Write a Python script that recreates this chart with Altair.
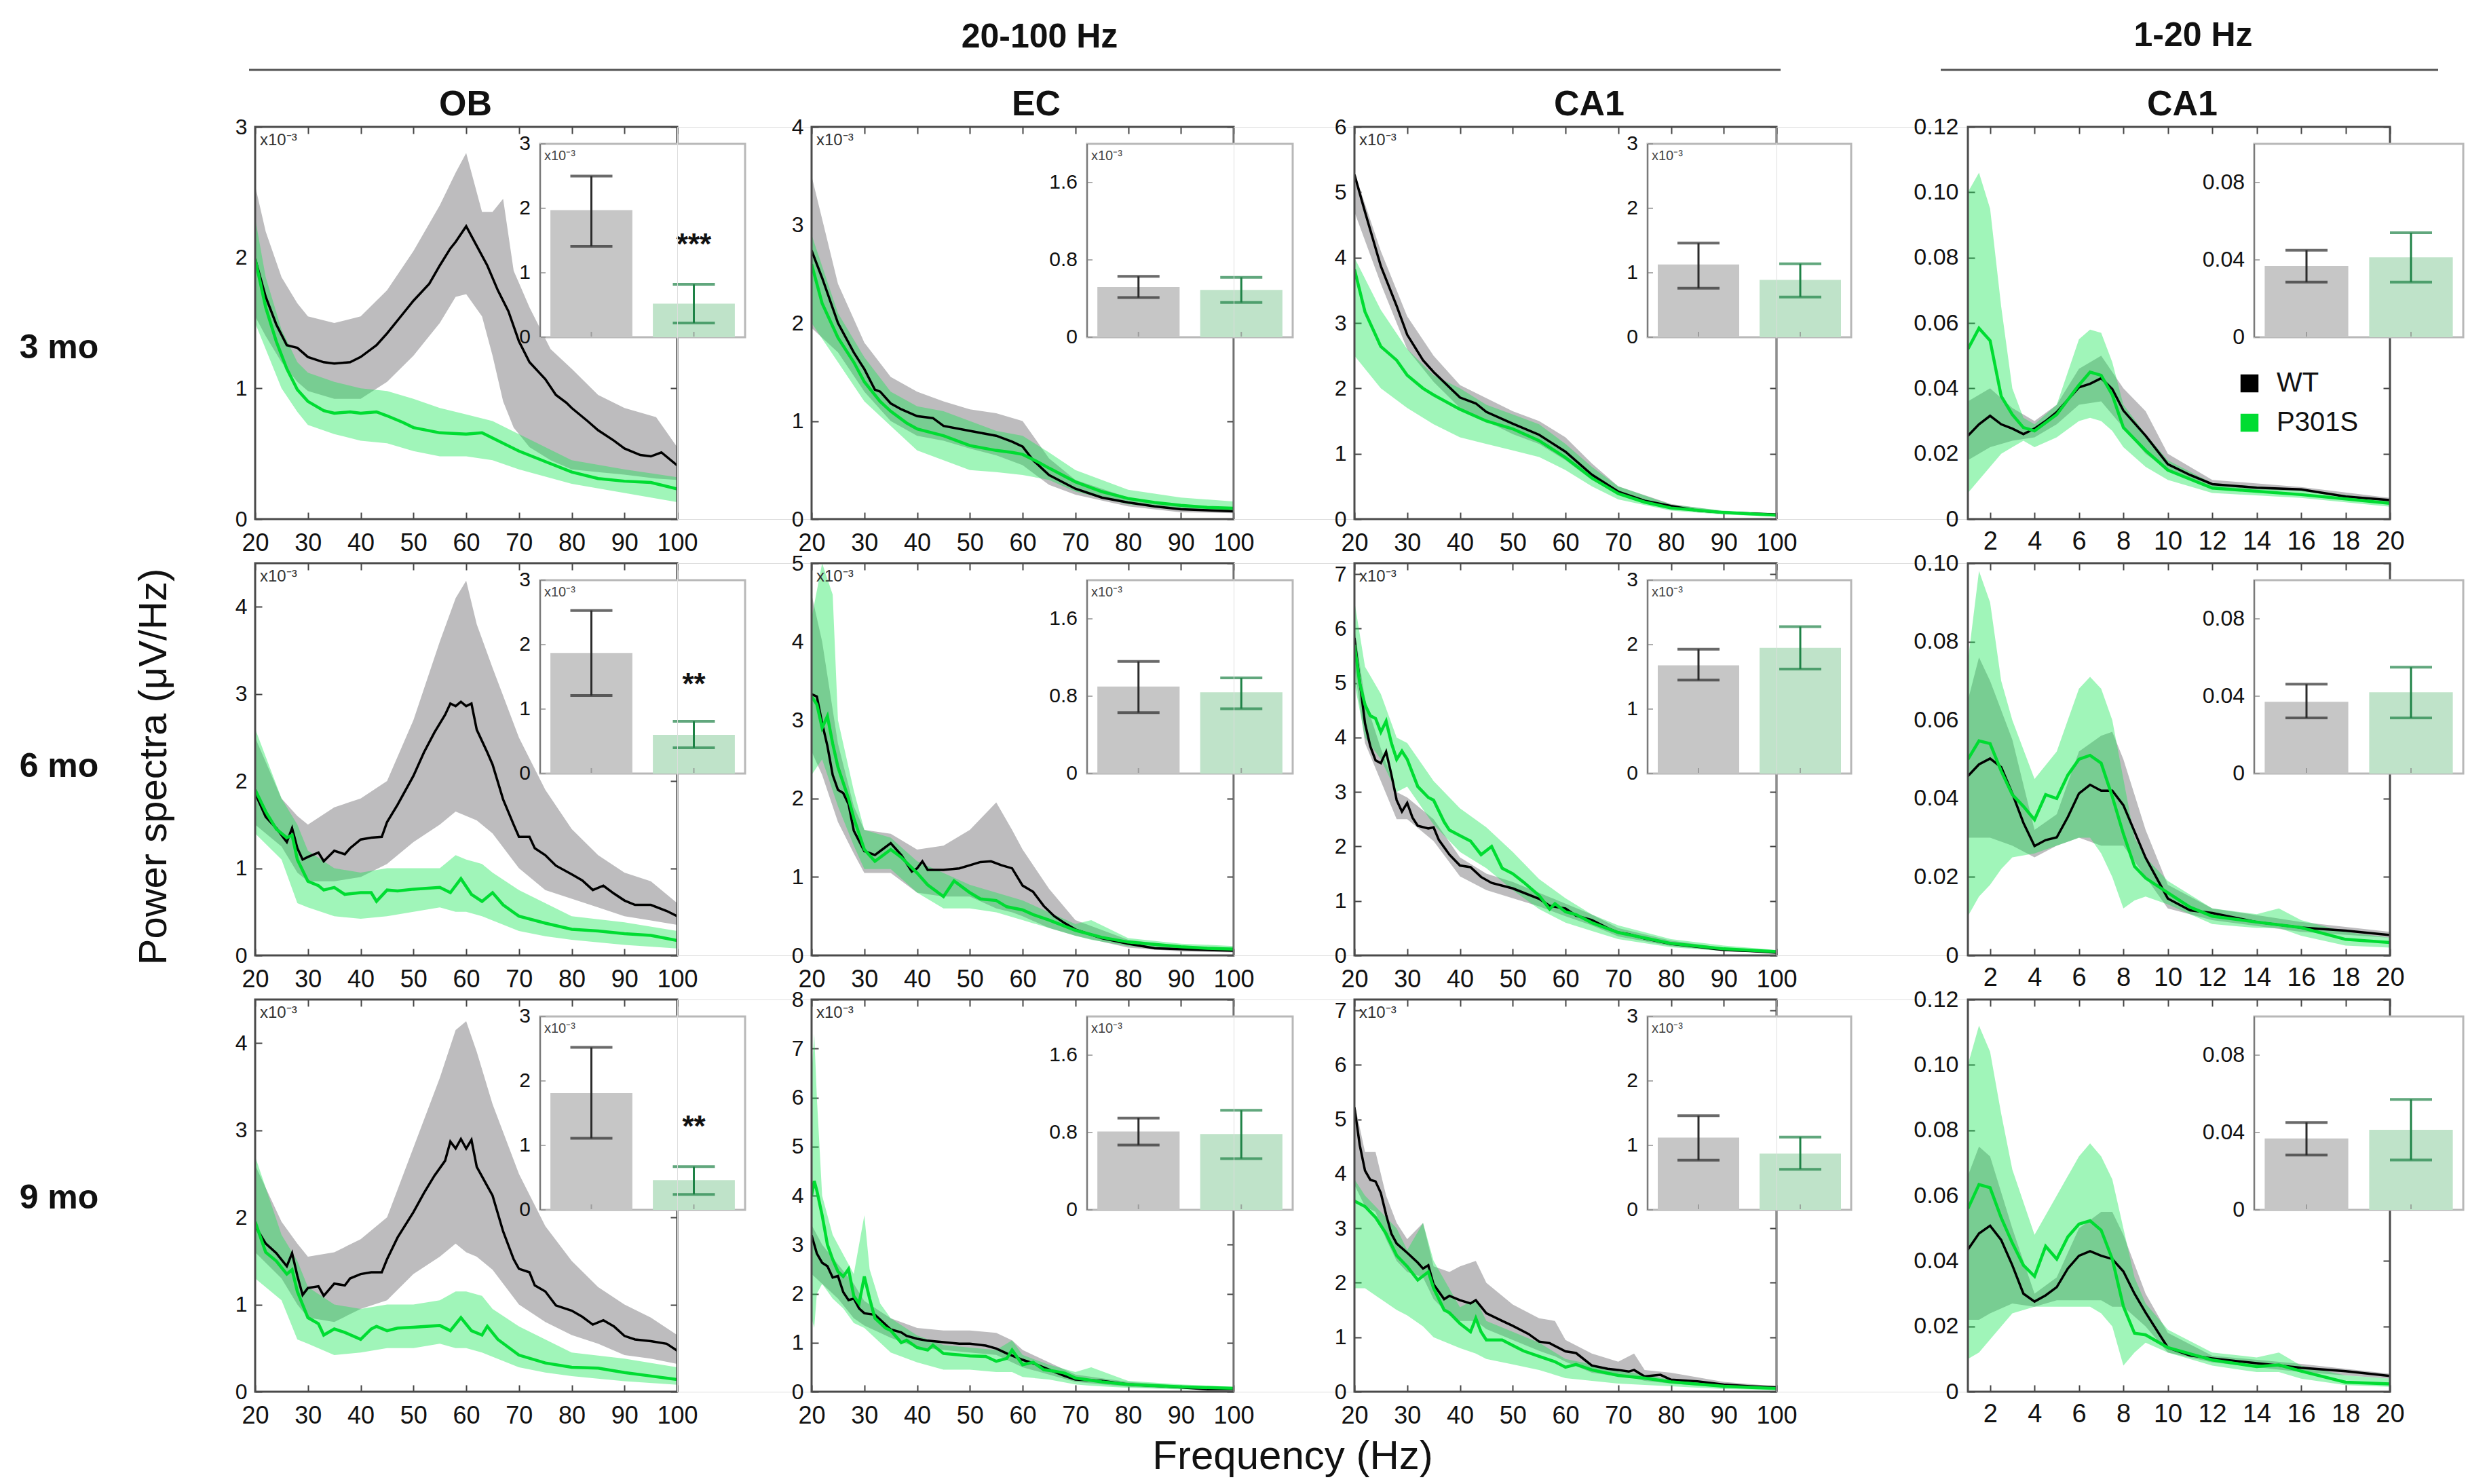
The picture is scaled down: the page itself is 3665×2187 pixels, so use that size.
import altair as alt
import pandas as pd

# ------------------------------------------------------------------
# Data (power spectra, x10^-3 uV/Hz for 20-100 Hz)
# line lists: (Hz, mean) ; band lists: (Hz, lower, upper)
# ------------------------------------------------------------------
GROUPS = ["WT", "P301S"]

# ---------------- 3 months ----------------
OB3_WT = [(20,1.99),(22,1.70),(24,1.49),(26,1.33),(28,1.31),(30,1.24),(33,1.20),(35,1.19),(38,1.20),(40,1.24),(43,1.33),(45,1.42),(48,1.57),(50,1.67),(53,1.80),(55,1.94),(57,2.07),(58,2.12),(60,2.24),(62,2.09),(64,1.94),(66,1.75),(68,1.59),(70,1.36),(72,1.20),(75,1.07),(77,0.95),(79,0.89),(80,0.85),(83,0.75),(85,0.68),(88,0.60),(90,0.54),(93,0.49),(95,0.48),(97,0.51),(100,0.41)]
OB3_WT_BAND = [(20,1.55,2.55),(22,1.40,2.20),(25,1.20,1.85),(28,1.05,1.65),(30,0.98,1.55),(35,0.92,1.50),(40,0.92,1.55),(45,1.05,1.75),(50,1.25,2.05),(55,1.50,2.40),(58,1.70,2.65),(60,1.72,2.80),(63,1.55,2.35),(65,1.25,2.35),(67,0.90,2.45),(69,0.70,1.90),(72,0.55,1.62),(76,0.45,1.30),(80,0.38,1.15),(85,0.36,0.95),(90,0.34,0.85),(96,0.31,0.78),(100,0.30,0.55)]
OB3_P = [(20,1.99),(22,1.62),(24,1.36),(26,1.15),(28,0.99),(30,0.90),(33,0.83),(35,0.81),(38,0.82),(40,0.81),(43,0.82),(45,0.79),(48,0.74),(50,0.70),(55,0.66),(60,0.65),(63,0.66),(65,0.62),(70,0.52),(75,0.44),(80,0.36),(85,0.31),(90,0.29),(95,0.28),(100,0.23)]
OB3_P_BAND = [(20,1.50,2.30),(22,1.30,1.85),(25,1.00,1.45),(28,0.82,1.20),(30,0.72,1.12),(35,0.65,1.05),(40,0.60,1.00),(45,0.58,0.98),(50,0.52,0.92),(55,0.48,0.85),(60,0.48,0.80),(65,0.45,0.75),(70,0.38,0.65),(80,0.27,0.45),(90,0.20,0.38),(100,0.13,0.32)]
OB3_BAR = [1.97, 0.52]
OB3_ERR = [(1.41, 2.50), (0.22, 0.82)]

EC3_WT = [(20,2.74),(22,2.46),(25,2.00),(28,1.70),(30,1.53),(32,1.32),(33,1.30),(35,1.18),(37,1.12),(40,1.05),(43,1.03),(45,0.95),(50,0.90),(55,0.85),(58,0.79),(60,0.74),(62,0.60),(65,0.45),(70,0.31),(75,0.22),(80,0.17),(85,0.13),(90,0.10),(95,0.09),(100,0.08)]
EC3_WT_BAND = [(20,1.95,3.50),(25,1.70,2.40),(30,1.30,1.80),(35,1.00,1.45),(40,0.85,1.30),(45,0.80,1.20),(50,0.72,1.12),(55,0.65,1.08),(60,0.55,1.00),(65,0.35,0.62),(70,0.25,0.40),(80,0.13,0.22),(90,0.07,0.14),(100,0.06,0.12)]
EC3_P = [(20,2.60),(22,2.20),(25,1.85),(28,1.60),(30,1.40),(33,1.20),(35,1.10),(38,0.98),(40,0.92),(45,0.85),(50,0.75),(55,0.70),(58,0.68),(60,0.66),(63,0.58),(65,0.52),(70,0.38),(75,0.28),(80,0.21),(85,0.17),(90,0.14),(95,0.12),(100,0.11)]
EC3_P_BAND = [(20,2.00,2.90),(25,1.60,2.10),(30,1.20,1.65),(35,0.95,1.30),(40,0.70,1.15),(45,0.60,1.10),(50,0.50,1.00),(55,0.48,0.90),(60,0.45,0.85),(65,0.40,0.68),(70,0.28,0.50),(80,0.15,0.30),(90,0.10,0.22),(100,0.07,0.18)]
EC3_BAR = [0.52, 0.49]
EC3_ERR = [(0.41, 0.63), (0.36, 0.62)]

CA3_WT = [(20,5.27),(22,4.70),(25,3.87),(28,3.26),(30,2.82),(33,2.43),(35,2.25),(40,1.86),(43,1.77),(45,1.64),(50,1.46),(55,1.29),(60,1.03),(65,0.68),(70,0.42),(75,0.28),(80,0.20),(85,0.13),(90,0.10),(100,0.07)]
CA3_WT_BAND = [(20,4.70,5.30),(25,3.60,4.10),(30,2.60,3.10),(35,2.10,2.50),(40,1.70,2.05),(45,1.50,1.85),(50,1.30,1.65),(55,1.15,1.50),(60,0.90,1.25),(65,0.60,0.85),(70,0.37,0.50),(80,0.17,0.23),(90,0.08,0.12),(100,0.05,0.08)]
CA3_P = [(20,3.82),(22,3.17),(25,2.64),(28,2.43),(30,2.20),(33,2.00),(35,1.90),(40,1.68),(45,1.50),(50,1.38),(55,1.20),(60,0.94),(65,0.63),(70,0.39),(75,0.26),(80,0.17),(90,0.10),(100,0.06)]
CA3_P_BAND = [(20,2.50,4.00),(25,2.00,3.20),(30,1.70,2.60),(35,1.45,2.20),(40,1.25,2.00),(45,1.15,1.75),(50,1.05,1.60),(55,0.95,1.45),(60,0.75,1.15),(65,0.50,0.80),(70,0.30,0.50),(80,0.13,0.22),(90,0.07,0.13),(100,0.04,0.09)]
CA3_BAR = [1.13, 0.89]
CA3_ERR = [(0.76, 1.46), (0.625, 1.14)]

LF3_WT = [(1,0.0255),(1.5,0.029),(2,0.0316),(2.5,0.029),(3,0.0277),(3.5,0.026),(4,0.0277),(4.5,0.030),(5,0.0327),(5.5,0.0365),(6,0.0403),(6.5,0.0414),(7,0.0431),(7.5,0.0398),(8,0.0332),(9,0.0255),(10,0.0168),(11,0.0135),(12,0.0107),(14,0.0096),(16,0.0091),(18,0.0069),(20,0.0058)]
LF3_WT_BAND = [(1,0.018,0.036),(2,0.022,0.040),(3,0.024,0.034),(4,0.025,0.030),(5,0.029,0.035),(6,0.035,0.046),(7,0.036,0.050),(8,0.028,0.040),(9,0.020,0.033),(10,0.015,0.020),(12,0.0095,0.012),(16,0.0085,0.0098),(20,0.0052,0.0065)]
LF3_P = [(1,0.052),(1.5,0.0584),(2,0.0546),(2.5,0.0376),(3,0.032),(3.5,0.028),(4,0.027),(5,0.032),(6,0.041),(6.5,0.045),(7,0.044),(7.5,0.038),(8,0.028),(9,0.021),(10,0.015),(12,0.0095),(14,0.0085),(16,0.0075),(18,0.0062),(20,0.0048)]
LF3_P_BAND = [(1,0.008,0.100),(1.5,0.012,0.106),(2,0.016,0.095),(2.5,0.020,0.065),(3,0.022,0.040),(3.5,0.024,0.031),(4,0.022,0.029),(5,0.025,0.035),(6,0.030,0.055),(6.5,0.031,0.058),(7,0.030,0.057),(7.5,0.027,0.048),(8,0.022,0.035),(9,0.016,0.026),(10,0.012,0.018),(12,0.008,0.011),(16,0.0065,0.009),(20,0.0038,0.0058)]
LF3_BAR = [0.0368, 0.0413]
LF3_ERR = [(0.0285, 0.045), (0.0285, 0.054)]

# ---------------- 6 months ----------------
OB6_WT = [(20,1.86),(22,1.59),(24,1.46),(26,1.30),(27,1.46),(28,1.23),(29,1.10),(30,1.13),(32,1.18),(33,1.08),(35,1.20),(37,1.16),(38,1.23),(40,1.33),(42,1.35),(44,1.36),(45,1.53),(47,1.73),(50,2.06),(52,2.33),(54,2.56),(56,2.76),(57,2.89),(58,2.86),(59,2.91),(60,2.86),(61,2.89),(62,2.59),(64,2.33),(65,2.19),(67,1.79),(69,1.50),(70,1.36),(72,1.36),(73,1.23),(75,1.15),(77,1.03),(80,0.93),(82,0.86),(84,0.75),(86,0.80),(88,0.71),(90,0.63),(92,0.58),(95,0.58),(98,0.51),(100,0.45)]
OB6_WT_BAND = [(20,1.50,2.50),(25,1.25,1.80),(28,0.95,1.60),(30,0.85,1.50),(35,0.85,1.70),(40,0.90,1.80),(45,1.05,2.00),(50,1.30,2.70),(55,1.50,3.60),(58,1.65,4.10),(60,1.60,4.30),(62,1.55,3.80),(65,1.40,3.30),(70,1.00,2.50),(75,0.75,1.90),(80,0.65,1.45),(85,0.55,1.15),(90,0.45,0.95),(95,0.40,0.85),(100,0.35,0.60)]
OB6_P = [(20,1.90),(22,1.65),(24,1.45),(26,1.35),(27,1.38),(28,1.10),(30,0.85),(32,0.80),(33,0.75),(35,0.78),(37,0.70),(40,0.72),(42,0.72),(43,0.62),(45,0.75),(47,0.74),(50,0.76),(55,0.78),(57,0.72),(59,0.88),(61,0.70),(63,0.62),(65,0.72),(67,0.58),(70,0.45),(75,0.37),(80,0.30),(85,0.28),(90,0.25),(95,0.23),(100,0.17)]
OB6_P_BAND = [(20,1.40,2.60),(25,1.10,1.80),(28,0.60,1.50),(30,0.55,1.20),(35,0.45,1.00),(40,0.42,0.95),(45,0.45,1.00),(50,0.50,1.00),(55,0.55,1.00),(58,0.50,1.15),(60,0.50,1.10),(63,0.45,1.05),(65,0.40,0.95),(70,0.28,0.75),(75,0.22,0.60),(80,0.18,0.45),(90,0.12,0.38),(100,0.08,0.28)]
OB6_BAR = [1.87, 0.60]
OB6_ERR = [(1.21, 2.53), (0.40, 0.81)]

EC6_WT = [(20,3.33),(21,3.30),(22,2.96),(23,2.67),(24,2.30),(25,2.11),(26,2.07),(27,1.93),(28,1.59),(30,1.33),(32,1.28),(33,1.33),(35,1.43),(37,1.28),(39,1.07),(40,1.11),(41,1.20),(42,1.09),(45,1.09),(48,1.11),(50,1.15),(52,1.19),(54,1.20),(56,1.15),(58,1.11),(60,0.89),(62,0.81),(64,0.63),(66,0.50),(68,0.41),(70,0.33),(75,0.22),(80,0.15),(85,0.09),(90,0.08),(95,0.07),(100,0.06)]
EC6_WT_BAND = [(20,2.60,4.60),(22,2.30,4.00),(25,1.70,2.70),(28,1.30,1.90),(30,1.05,1.60),(35,1.05,1.55),(40,0.80,1.35),(45,0.75,1.40),(50,0.75,1.60),(55,0.60,1.95),(58,0.55,1.60),(60,0.50,1.35),(65,0.35,0.85),(70,0.25,0.45),(80,0.10,0.20),(90,0.05,0.12),(100,0.04,0.10)]
EC6_P = [(20,3.30),(21,3.20),(22,2.90),(23,3.05),(24,2.70),(25,2.40),(27,2.00),(28,1.75),(30,1.35),(32,1.20),(35,1.35),(37,1.25),(40,1.05),(42,0.90),(45,0.75),(47,0.95),(50,0.80),(52,0.72),(55,0.70),(57,0.62),(60,0.58),(62,0.52),(65,0.45),(70,0.32),(75,0.23),(80,0.17),(85,0.14),(90,0.11),(95,0.09),(100,0.08)]
EC6_P_BAND = [(20,2.30,4.30),(22,2.50,5.00),(24,2.10,4.60),(25,1.90,3.00),(28,1.40,2.10),(30,1.10,1.60),(35,1.10,1.50),(40,0.80,1.20),(45,0.60,1.05),(50,0.60,0.90),(55,0.55,0.80),(60,0.45,0.70),(65,0.35,0.55),(70,0.25,0.40),(73,0.20,0.45),(80,0.12,0.22),(90,0.07,0.15),(100,0.05,0.12)]
EC6_BAR = [0.90, 0.84]
EC6_ERR = [(0.63, 1.16), (0.67, 0.99)]

CA6_WT = [(20,5.83),(21,5.04),(22,4.26),(23,3.84),(24,3.58),(25,3.53),(26,3.74),(27,3.32),(28,2.85),(29,2.64),(30,2.80),(31,2.53),(32,2.38),(34,2.33),(35,2.35),(36,2.12),(38,1.85),(40,1.65),(42,1.62),(44,1.44),(46,1.33),(50,1.23),(55,1.04),(57,0.91),(60,0.86),(62,0.73),(65,0.65),(68,0.50),(70,0.42),(72,0.39),(75,0.31),(80,0.21),(85,0.16),(90,0.10),(95,0.08),(100,0.05)]
CA6_WT_BAND = [(20,5.30,6.00),(22,3.90,4.70),(25,3.20,3.80),(28,2.50,3.00),(30,2.50,2.90),(35,2.10,2.50),(40,1.45,1.80),(45,1.20,1.50),(50,1.05,1.35),(55,0.90,1.15),(60,0.72,0.95),(65,0.55,0.75),(70,0.35,0.50),(80,0.17,0.27),(90,0.08,0.14),(100,0.04,0.08)]
CA6_P = [(20,5.70),(21,5.00),(22,4.60),(23,4.40),(24,4.35),(25,4.10),(26,4.30),(27,3.90),(28,3.60),(29,3.75),(30,3.60),(32,3.10),(34,2.90),(35,2.85),(37,2.45),(38,2.30),(40,2.20),(42,2.10),(44,1.85),(46,2.00),(48,1.60),(50,1.50),(52,1.35),(55,1.10),(57,0.85),(58,0.95),(60,0.80),(62,0.75),(65,0.60),(70,0.42),(75,0.32),(80,0.22),(85,0.17),(90,0.12),(100,0.07)]
CA6_P_BAND = [(20,5.00,6.50),(22,4.00,5.30),(25,3.60,4.80),(28,3.00,4.00),(30,3.10,3.90),(35,2.40,3.20),(40,1.90,2.70),(45,1.60,2.35),(50,1.20,1.90),(55,0.85,1.40),(60,0.60,1.05),(65,0.45,0.75),(70,0.30,0.55),(80,0.15,0.30),(90,0.08,0.18),(100,0.04,0.10)]
CA6_BAR = [1.68, 1.95]
CA6_ERR = [(1.45, 1.93), (1.62, 2.28)]

LF6_WT = [(1,0.0457),(1.5,0.0487),(2,0.0502),(2.5,0.048),(3,0.0413),(3.5,0.0338),(4,0.0279),(4.5,0.0294),(5,0.0301),(5.5,0.0353),(6,0.0413),(6.5,0.0435),(7,0.042),(7.5,0.042),(8,0.0383),(8.5,0.0316),(9,0.0249),(10,0.0145),(11,0.0115),(12,0.0108),(14,0.0085),(16,0.0071),(18,0.0063),(20,0.0052)]
LF6_WT_BAND = [(1,0.030,0.065),(1.5,0.030,0.076),(2,0.030,0.070),(3,0.028,0.055),(4,0.025,0.032),(5,0.028,0.036),(6,0.030,0.052),(7,0.028,0.056),(7.5,0.028,0.057),(8,0.028,0.050),(9,0.020,0.032),(10,0.012,0.018),(12,0.009,0.012),(16,0.006,0.0085),(20,0.0045,0.006)]
LF6_P = [(1,0.050),(1.5,0.0547),(2,0.054),(2.5,0.047),(3,0.041),(3.5,0.038),(4,0.0346),(4.5,0.041),(5,0.040),(5.5,0.046),(6,0.050),(6.5,0.051),(7,0.049),(7.5,0.0405),(8,0.031),(8.5,0.0227),(9,0.0197),(10,0.016),(11,0.0123),(12,0.010),(14,0.0085),(16,0.0071),(18,0.0041),(20,0.0033)]
LF6_P_BAND = [(1,0.010,0.075),(1.5,0.015,0.098),(2,0.018,0.090),(2.5,0.022,0.070),(3,0.025,0.060),(4,0.026,0.045),(5,0.028,0.052),(6,0.030,0.068),(6.5,0.030,0.071),(7,0.026,0.068),(7.5,0.020,0.060),(8,0.012,0.045),(8.5,0.014,0.030),(9,0.015,0.025),(10,0.013,0.019),(12,0.008,0.012),(14,0.007,0.0105),(15,0.007,0.012),(16,0.005,0.009),(18,0.0025,0.006),(20,0.002,0.0045)]
LF6_BAR = [0.0371, 0.042]
LF6_ERR = [(0.0288, 0.0462), (0.0288, 0.055)]

# ---------------- 9 months ----------------
OB9_WT = [(20,1.90),(22,1.70),(24,1.59),(26,1.44),(27,1.59),(28,1.33),(29,1.11),(30,1.19),(32,1.21),(33,1.10),(35,1.24),(37,1.22),(38,1.30),(40,1.35),(42,1.37),(44,1.37),(45,1.52),(47,1.77),(50,2.06),(52,2.28),(54,2.48),(56,2.65),(57,2.87),(58,2.79),(59,2.90),(60,2.79),(61,2.89),(62,2.58),(64,2.36),(65,2.25),(67,1.84),(69,1.52),(70,1.41),(72,1.37),(73,1.22),(75,1.15),(77,0.99),(80,0.93),(82,0.86),(84,0.77),(86,0.82),(88,0.75),(90,0.64),(92,0.60),(95,0.58),(98,0.55),(100,0.47)]
OB9_WT_BAND = [(20,1.60,2.60),(25,1.30,1.95),(28,1.00,1.70),(30,0.85,1.55),(35,0.80,1.60),(40,0.95,1.75),(45,1.05,2.00),(50,1.35,2.80),(55,1.55,3.60),(58,1.70,4.15),(60,1.60,4.25),(62,1.55,3.90),(65,1.40,3.30),(70,1.00,2.50),(75,0.80,1.90),(80,0.65,1.50),(85,0.55,1.20),(90,0.42,1.00),(95,0.38,0.85),(100,0.32,0.65)]
OB9_P = [(20,1.95),(22,1.60),(24,1.50),(26,1.35),(27,1.40),(28,1.15),(30,0.85),(32,0.78),(33,0.65),(35,0.72),(37,0.68),(40,0.60),(42,0.72),(43,0.75),(45,0.70),(47,0.73),(50,0.74),(55,0.76),(57,0.70),(59,0.85),(61,0.70),(63,0.65),(64,0.75),(66,0.60),(70,0.42),(75,0.33),(80,0.28),(85,0.27),(90,0.22),(95,0.18),(100,0.14)]
OB9_P_BAND = [(20,1.30,2.70),(25,1.05,1.80),(28,0.60,1.50),(30,0.55,1.20),(35,0.42,1.00),(40,0.45,0.95),(45,0.50,1.00),(50,0.50,1.00),(55,0.55,1.05),(58,0.50,1.15),(60,0.50,1.15),(63,0.45,1.10),(65,0.40,0.95),(70,0.28,0.75),(75,0.22,0.60),(80,0.18,0.45),(90,0.12,0.38),(100,0.08,0.28)]
OB9_BAR = [1.81, 0.46]
OB9_ERR = [(1.11, 2.52), (0.24, 0.67)]

EC9_WT = [(20,3.19),(21,2.82),(22,2.63),(23,2.56),(24,2.33),(25,2.36),(26,2.03),(27,1.87),(28,1.90),(29,1.70),(30,1.60),(32,1.57),(34,1.37),(35,1.27),(37,1.21),(38,1.14),(40,1.08),(42,1.04),(45,1.01),(48,0.98),(50,0.98),(53,0.94),(55,0.88),(57,0.78),(60,0.65),(62,0.58),(65,0.45),(68,0.32),(70,0.25),(75,0.22),(80,0.15),(85,0.12),(90,0.09),(95,0.05),(100,0.05)]
EC9_WT_BAND = [(20,2.40,3.40),(22,2.20,3.00),(25,1.90,2.60),(28,1.50,2.20),(30,1.35,1.85),(35,1.10,1.50),(40,0.90,1.30),(45,0.85,1.25),(50,0.80,1.25),(55,0.75,1.20),(58,0.60,1.05),(60,0.50,0.85),(65,0.35,0.60),(70,0.20,0.35),(80,0.10,0.20),(90,0.06,0.12),(100,0.03,0.08)]
EC9_P = [(20,4.00),(20.5,4.30),(21,4.10),(22,3.60),(23,3.00),(24,2.70),(25,2.45),(26,2.35),(27,2.50),(28,1.95),(29,1.80),(30,2.35),(31,1.90),(32,1.50),(34,1.30),(35,1.25),(37,1.00),(38,1.05),(40,0.90),(42,0.85),(43,0.95),(45,0.78),(48,0.75),(50,0.73),(53,0.72),(55,0.62),(57,0.68),(58,0.85),(60,0.55),(62,0.60),(64,0.45),(66,0.42),(68,0.38),(70,0.28),(75,0.20),(80,0.15),(90,0.10),(100,0.07)]
EC9_P_BAND = [(20,1.50,6.50),(20.5,1.30,7.30),(21,2.00,6.00),(22,2.20,4.00),(24,1.90,3.20),(26,1.70,2.80),(28,1.40,2.40),(30,1.30,3.60),(31,1.20,2.50),(33,1.00,1.80),(35,0.80,1.50),(40,0.60,1.15),(45,0.45,0.95),(50,0.45,0.90),(55,0.40,0.85),(58,0.40,1.05),(60,0.30,0.75),(65,0.25,0.55),(70,0.15,0.40),(73,0.12,0.50),(80,0.08,0.22),(90,0.05,0.15),(100,0.03,0.10)]
EC9_BAR = [0.81, 0.785]
EC9_ERR = [(0.67, 0.95), (0.53, 1.03)]

CA9_WT = [(20,5.22),(21,4.53),(22,4.06),(23,3.89),(24,3.86),(25,3.65),(26,3.25),(27,2.90),(28,2.72),(30,2.55),(32,2.37),(33,2.26),(34,2.32),(35,1.97),(37,1.70),(38,1.76),(40,1.68),(42,1.62),(43,1.68),(45,1.44),(48,1.30),(50,1.21),(53,1.06),(55,0.92),(57,0.89),(60,0.74),(62,0.71),(65,0.48),(68,0.42),(70,0.40),(72,0.37),(73,0.40),(75,0.28),(78,0.31),(80,0.22),(85,0.19),(90,0.13),(95,0.10),(100,0.08)]
CA9_WT_BAND = [(20,3.80,5.30),(22,3.40,4.40),(24,3.30,4.40),(26,2.80,3.60),(28,2.40,3.10),(30,2.20,2.80),(33,2.10,3.10),(35,1.70,2.30),(38,1.40,2.20),(40,1.30,2.30),(43,1.30,2.40),(45,1.15,2.00),(50,0.95,1.60),(55,0.75,1.35),(58,0.65,1.30),(60,0.55,0.95),(65,0.35,0.70),(70,0.28,0.55),(73,0.25,0.70),(75,0.20,0.40),(80,0.15,0.35),(90,0.08,0.18),(100,0.05,0.10)]
CA9_P = [(20,3.50),(22,3.40),(24,3.20),(26,2.90),(28,2.50),(30,2.30),(32,2.05),(34,2.20),(35,1.90),(37,1.50),(38,1.45),(40,1.25),(42,1.10),(43,1.35),(44,1.10),(45,0.95),(48,0.95),(50,0.85),(52,0.75),(55,0.65),(58,0.55),(60,0.45),(62,0.50),(65,0.40),(70,0.30),(75,0.25),(80,0.18),(90,0.10),(100,0.06)]
CA9_P_BAND = [(20,1.90,3.90),(22,1.90,3.60),(25,1.70,3.30),(28,1.50,3.00),(30,1.40,2.60),(33,1.20,3.10),(35,1.00,2.40),(40,0.80,1.55),(43,0.70,1.70),(45,0.60,1.30),(50,0.50,1.10),(55,0.40,0.90),(60,0.25,0.60),(65,0.20,0.50),(70,0.15,0.40),(80,0.10,0.22),(90,0.05,0.13),(100,0.03,0.08)]
CA9_BAR = [1.12, 0.875]
CA9_ERR = [(0.77, 1.46), (0.63, 1.13)]

LF9_WT = [(1,0.0435),(1.5,0.0484),(2,0.0508),(2.5,0.0464),(3,0.0387),(3.5,0.030),(4,0.0276),(4.5,0.0295),(5,0.032),(5.5,0.0377),(6,0.0416),(6.5,0.043),(7,0.0416),(7.5,0.0406),(8,0.0368),(8.5,0.030),(9,0.0242),(10,0.0135),(11,0.0111),(12,0.0102),(14,0.0087),(16,0.0073),(18,0.0063),(20,0.0048)]
LF9_WT_BAND = [(1,0.022,0.066),(1.5,0.022,0.075),(2,0.024,0.072),(3,0.027,0.050),(4,0.026,0.030),(5,0.028,0.035),(6,0.028,0.050),(7,0.028,0.055),(7.5,0.026,0.055),(8,0.026,0.048),(9,0.020,0.030),(10,0.012,0.018),(12,0.009,0.011),(16,0.006,0.0085),(20,0.004,0.0055)]
LF9_P = [(1,0.056),(1.5,0.0634),(2,0.0624),(2.5,0.0532),(3,0.0455),(3.5,0.0387),(4,0.0353),(4.5,0.0445),(5,0.0406),(5.5,0.0474),(6,0.0513),(6.5,0.0523),(7,0.0494),(7.5,0.0406),(8,0.0261),(8.5,0.0179),(9,0.0174),(10,0.0135),(11,0.0116),(12,0.0097),(14,0.0077),(15,0.0082),(16,0.0063),(18,0.0029),(20,0.0024)]
LF9_P_BAND = [(1,0.010,0.100),(1.5,0.012,0.112),(2,0.016,0.104),(2.5,0.020,0.085),(3,0.024,0.068),(4,0.026,0.048),(5,0.026,0.060),(6,0.026,0.072),(6.5,0.026,0.076),(7,0.024,0.072),(7.5,0.020,0.065),(8,0.008,0.050),(8.5,0.012,0.035),(9,0.015,0.027),(10,0.012,0.019),(12,0.008,0.012),(14,0.006,0.0105),(15,0.006,0.012),(16,0.004,0.008),(18,0.002,0.005),(20,0.0015,0.004)]
LF9_BAR = [0.0369, 0.0414]
LF9_ERR = [(0.0283, 0.0452), (0.0258, 0.0571)]

# significance marks on the P301S inset bar (y in inset units), per row
STARS_OB = [("***", 1.42), ("**", 1.37), ("**", 1.27)]

# axis tops of the main panels, per row (OB, EC, CA1, CA1 1-20 Hz)
YTOP = [[3, 4, 6, 0.12], [4.5, 5, 7.2, 0.10], [4.5, 8, 7.2, 0.12]]

# inset y tick values and their labels
INSET_TICKS_INT = [0, 1, 2, 3]
INSET_LABELS_INT = ["0", "1", "2", "3"]
INSET_TICKS_EC = [0, 0.8, 1.6]
INSET_LABELS_EC = ["0", "0.8", "1.6"]
INSET_TICKS_LF = [0, 0.04, 0.08]
INSET_LABELS_LF = ["0", "0.04", "0.08"]

ROW_LABELS = ["3 mo", "6 mo", "9 mo"]
COL_TITLES = ["OB", "EC", "CA1", "CA1"]

# ------------------------------------------------------------------
# styling / layout
# ------------------------------------------------------------------
W, H = 622, 578
TK, ITK = 10, 7
REG = "'Liberation Sans', Arial, sans-serif"
NARROW = "'Liberation Sans Narrow', 'Liberation Sans', Arial, sans-serif"
LINE_COLORS = ["#000000", "#00dc32"]
WT_BAND = "#bdbcbe"
P_BAND = "#11e650"
BAR_FILLS = ["#c6c6c6", "#bfe3c9"]
ERR_COLORS = ["#2b2b2b", "#1e8246"]
TXT = "#111111"
ONE = alt.InlineData(values=[{"k": 0}])

COLS = {
    "OB":  dict(xdom=[20, 100], xticks=list(range(20, 101, 10)), ix=(420, 722), itop=3,
                iv=INSET_TICKS_INT, il=INSET_LABELS_INT, mult=True),
    "EC":  dict(xdom=[20, 100], xticks=list(range(20, 101, 10)), ix=(406, 709), itop=2.0,
                iv=INSET_TICKS_EC, il=INSET_LABELS_EC, mult=True),
    "CA1": dict(xdom=[20, 100], xticks=list(range(20, 101, 10)), ix=(432, 732), itop=3,
                iv=INSET_TICKS_INT, il=INSET_LABELS_INT, mult=True),
    "LF":  dict(xdom=[1, 20], xticks=list(range(2, 21, 2)), ix=(422, 730), itop=0.1,
                iv=INSET_TICKS_LF, il=INSET_LABELS_LF, mult=False),
}
IY = (25, 310)


def lab_expr(dec):
    if dec == 0:
        return "format(datum.value, 'd')"
    return f"datum.value == 0 ? '0' : format(datum.value, '.{dec}f')"


def txt(text, x, y, size, weight="normal", font=REG, angle=0, align="center", baseline="middle", color=TXT):
    return alt.Chart(ONE).mark_text(text=text, fontSize=size, fontWeight=weight, font=font,
                                    angle=angle, align=align, baseline=baseline, color=color
                                    ).encode(x=alt.value(x), y=alt.value(y))


def panel(col, ytop, wt, wt_b, p, p_b, bar_m, bar_e, star=None, extras=()):
    c = COLS[col]
    narrow = col != "LF"
    tfont = NARROW if narrow else REG
    xs = alt.Scale(domain=c["xdom"], nice=False, zero=False)
    ys = alt.Scale(domain=[0, ytop], nice=False, zero=False)
    if col == "LF":
        yvals = [round(0.02 * i, 2) for i in range(int(round(ytop / 0.02)) + 1)]
        ydec = 2
    else:
        yvals = list(range(int(ytop) + 1))
        ydec = 0
    common = dict(grid=False, title=None, domain=False, tickSize=TK, offset=-TK,
                  tickColor="#444444", tickWidth=2, zindex=0)
    ax_b = alt.Axis(orient="bottom", values=c["xticks"], labelFont=tfont,
                    labelFontSize=36 if narrow else 38, labelPadding=18 if narrow else 14,
                    labelColor=TXT, labelFlush=False, labelOverlap=False, **common)
    ax_l = alt.Axis(orient="left", values=yvals, labelExpr=lab_expr(ydec), labelFont=tfont,
                    labelFontSize=32 if narrow else 34, labelPadding=12 if narrow else 14,
                    labelColor=TXT, labelFlush=False, labelOverlap=False, **common)
    ax_t = alt.Axis(orient="top", values=c["xticks"], labels=False, **common)
    ax_r = alt.Axis(orient="right", values=yvals, labels=False, **common)

    wt_df = pd.DataFrame(wt, columns=["f", "v"]).assign(group="WT")
    p_df = pd.DataFrame(p, columns=["f", "v"]).assign(group="P301S")
    wtb_df = pd.DataFrame(wt_b, columns=["f", "lo", "hi"])
    pb_df = pd.DataFrame(p_b, columns=["f", "lo", "hi"])
    cscale = alt.Scale(domain=GROUPS, range=LINE_COLORS)

    band_wt = alt.Chart(wtb_df).mark_area(color=WT_BAND, clip=True).encode(
        x=alt.X("f:Q", scale=xs, axis=ax_b), y=alt.Y("lo:Q", scale=ys, axis=ax_l), y2="hi:Q")
    band_p = alt.Chart(pb_df).mark_area(color=P_BAND, opacity=0.4, clip=True).encode(
        x=alt.X("f:Q", scale=xs, axis=None), y=alt.Y("lo:Q", scale=ys, axis=None), y2="hi:Q")
    line_wt = alt.Chart(wt_df).mark_line(strokeWidth=3.5, clip=True).encode(
        x=alt.X("f:Q", scale=xs, axis=None), y=alt.Y("v:Q", scale=ys, axis=None),
        color=alt.Color("group:N", scale=cscale, legend=None))
    line_p = alt.Chart(p_df).mark_line(strokeWidth=4.5, clip=True).encode(
        x=alt.X("f:Q", scale=xs, axis=None), y=alt.Y("v:Q", scale=ys, axis=None),
        color=alt.Color("group:N", scale=cscale, legend=None))
    mirror = alt.Chart(wt_df).mark_line(opacity=0).encode(
        x=alt.X("f:Q", scale=xs, axis=ax_t), y=alt.Y("v:Q", scale=ys, axis=ax_r))
    frame = alt.Chart(ONE).mark_rect(fillOpacity=0, stroke="#4a4a4a", strokeWidth=3).encode(
        x=alt.value(0), x2=alt.value(W), y=alt.value(0), y2=alt.value(H))
    main_layers = [band_wt, band_p, line_wt, line_p, mirror, frame]
    if c["mult"]:
        main_layers.append(txt("x10\u207b\u00b3", 7, 8, 24, align="left", baseline="top", color="#333333"))
    main = alt.layer(*main_layers).resolve_axis(x="independent", y="independent")

    # ---- inset bar chart (own band / linear scales placed in the upper right) ----
    ix0, ix1 = c["ix"]
    iy0, iy1 = IY
    bdf = pd.DataFrame({"group": GROUPS, "mean": bar_m,
                        "lo": [e[0] for e in bar_e], "hi": [e[1] for e in bar_e]})
    tdf = pd.DataFrame({"v": c["iv"], "label": c["il"]})
    bx = alt.Scale(domain=GROUPS, range=[ix0, ix1], paddingInner=0.2, paddingOuter=0.1)
    by = alt.Scale(domain=[0, c["itop"]], range=[iy1, iy0], nice=False, zero=False)
    escale = alt.Scale(domain=GROUPS, range=ERR_COLORS)
    iframe = alt.Chart(ONE).mark_rect(fill="white", stroke="#b8b8b8", strokeWidth=3).encode(
        x=alt.value(ix0), x2=alt.value(ix1), y=alt.value(iy0), y2=alt.value(iy1))
    bars = alt.Chart(bdf).mark_bar().encode(
        x=alt.X("group:N", scale=bx, axis=None, sort=GROUPS),
        y=alt.Y("mean:Q", scale=by, axis=None),
        fill=alt.Fill("group:N", scale=alt.Scale(domain=GROUPS, range=BAR_FILLS), legend=None))
    err = alt.Chart(bdf).mark_rule(strokeWidth=3).encode(
        x=alt.X("group:N", scale=bx, axis=None, sort=GROUPS),
        y=alt.Y("lo:Q", scale=by, axis=None), y2="hi:Q",
        color=alt.Color("group:N", scale=escale, legend=None))
    caps = alt.Chart(bdf).transform_fold(["lo", "hi"], as_=["end", "val"]).mark_tick(
        thickness=4, size=62, orient="horizontal").encode(
        x=alt.X("group:N", scale=bx, axis=None, sort=GROUPS),
        y=alt.Y("val:Q", scale=by, axis=None),
        color=alt.Color("group:N", scale=escale, legend=None))
    # inset axis: tick labels and inward ticks placed through the inset scales
    ilabels = alt.Chart(tdf).mark_text(align="right", baseline="middle", font=tfont,
                                       fontSize=30 if narrow else 32, color=TXT, dx=-14).encode(
        x=alt.value(ix0), y=alt.Y("v:Q", scale=by, axis=None), text="label:N")
    iyticks = alt.Chart(tdf).mark_tick(orient="horizontal", size=ITK, thickness=2,
                                       color="#8a8a8a").encode(
        x=alt.value(ix0 + ITK / 2 + 1), y=alt.Y("v:Q", scale=by, axis=None))
    ixticks = alt.Chart(bdf).mark_tick(orient="vertical", size=ITK, thickness=2,
                                       color="#8a8a8a").encode(
        x=alt.X("group:N", scale=bx, axis=None, sort=GROUPS), y=alt.value(iy1 - ITK / 2 - 1))
    ileft = alt.Chart(ONE).mark_rule(color="#7a7a7a", strokeWidth=2).encode(
        x=alt.value(ix0), y=alt.value(iy0), y2=alt.value(iy1))
    inset_layers = [iframe, bars, err, caps, ileft, iyticks, ixticks, ilabels]
    if star is not None:
        sdf = pd.DataFrame({"group": ["P301S"], "y": [star[1]], "label": [star[0]]})
        inset_layers.append(alt.Chart(sdf).mark_text(fontSize=44, fontWeight="bold", font=REG,
                                                     baseline="middle", color=TXT).encode(
            x=alt.X("group:N", scale=bx, axis=None, sort=GROUPS),
            y=alt.Y("y:Q", scale=by, axis=None), text="label:N"))
    if c["mult"]:
        inset_layers.append(txt("x10\u207b\u00b3", ix0 + 6, iy0 + 8, 20, align="left",
                                baseline="top", color="#444444"))
    inset = alt.layer(*inset_layers)

    return alt.layer(main, inset, *extras).resolve_scale(
        x="independent", y="independent", color="independent").resolve_axis(
        x="independent", y="independent").properties(width=W, height=H)


def spacer(w):
    return alt.Chart(ONE).mark_point(opacity=0).encode(
        x=alt.value(0), y=alt.value(0)).properties(width=w, height=H)


def hrule(x1, x2, y):
    return alt.Chart(ONE).mark_rule(color="#555555", strokeWidth=3).encode(
        x=alt.value(x1), x2=alt.value(x2), y=alt.value(y))


def legend_items():
    out = []
    for name, colr, y in [("WT", LINE_COLORS[0], 378), ("P301S", LINE_COLORS[1], 436)]:
        out.append(alt.Chart(ONE).mark_square(size=700, color=colr, opacity=1, filled=True).encode(
            x=alt.value(415), y=alt.value(y)))
        out.append(txt(name, 455, y, 40, align="left"))
    return out


ROWS = [
    [(OB3_WT, OB3_WT_BAND, OB3_P, OB3_P_BAND, OB3_BAR, OB3_ERR),
     (EC3_WT, EC3_WT_BAND, EC3_P, EC3_P_BAND, EC3_BAR, EC3_ERR),
     (CA3_WT, CA3_WT_BAND, CA3_P, CA3_P_BAND, CA3_BAR, CA3_ERR),
     (LF3_WT, LF3_WT_BAND, LF3_P, LF3_P_BAND, LF3_BAR, LF3_ERR)],
    [(OB6_WT, OB6_WT_BAND, OB6_P, OB6_P_BAND, OB6_BAR, OB6_ERR),
     (EC6_WT, EC6_WT_BAND, EC6_P, EC6_P_BAND, EC6_BAR, EC6_ERR),
     (CA6_WT, CA6_WT_BAND, CA6_P, CA6_P_BAND, CA6_BAR, CA6_ERR),
     (LF6_WT, LF6_WT_BAND, LF6_P, LF6_P_BAND, LF6_BAR, LF6_ERR)],
    [(OB9_WT, OB9_WT_BAND, OB9_P, OB9_P_BAND, OB9_BAR, OB9_ERR),
     (EC9_WT, EC9_WT_BAND, EC9_P, EC9_P_BAND, EC9_BAR, EC9_ERR),
     (CA9_WT, CA9_WT_BAND, CA9_P, CA9_P_BAND, CA9_BAR, CA9_ERR),
     (LF9_WT, LF9_WT_BAND, LF9_P, LF9_P_BAND, LF9_BAR, LF9_ERR)],
]
COL_KEYS = ["OB", "EC", "CA1", "LF"]
TITLE_X = [310, 331, 346, 316]
ROW_LABEL_Y = [326, 300, 293]
GAPS = [198, 178, 282]

cells = []
for r in range(3):
    for ci, key in enumerate(COL_KEYS):
        extras = []
        if r == 0:
            extras.append(txt(COL_TITLES[ci], TITLE_X[ci], -33, 52, weight="bold"))
        if ci == 0:
            extras.append(txt(ROW_LABELS[r], -289, ROW_LABEL_Y[r], 50, weight="bold"))
        if r == 1 and ci == 0:
            extras.append(txt("Power spectra (\u03bcV/Hz)", -148, 300, 58, angle=270))
        if r == 0 and ci == 1:
            extras.append(txt("20-100 Hz", 336, -132, 50, weight="bold"))
            extras.append(hrule(-829, 1428, -84))
        if r == 0 and ci == 3:
            extras.append(txt("1-20 Hz", 332, -134, 50, weight="bold"))
            extras.append(hrule(-40, 693, -84))
            extras.extend(legend_items())
        if r == 2 and ci == 2:
            extras.append(txt("Frequency (Hz)", -91, 674, 60))
        star = STARS_OB[r] if key == "OB" else None
        cells.append(panel(key, YTOP[r][ci], *ROWS[r][ci], star=star, extras=extras))
        if ci < 3:
            cells.append(spacer(GAPS[ci]))

chart = alt.concat(*cells, columns=7, spacing={"row": 65, "column": 0},
                   bounds="flush", align="each").properties(
    padding={"left": 20, "top": 19, "right": 5, "bottom": 5}
).configure_view(stroke=None).configure(background="white")

chart.save("out.html", embed_options={"renderer": "svg", "actions": False})
